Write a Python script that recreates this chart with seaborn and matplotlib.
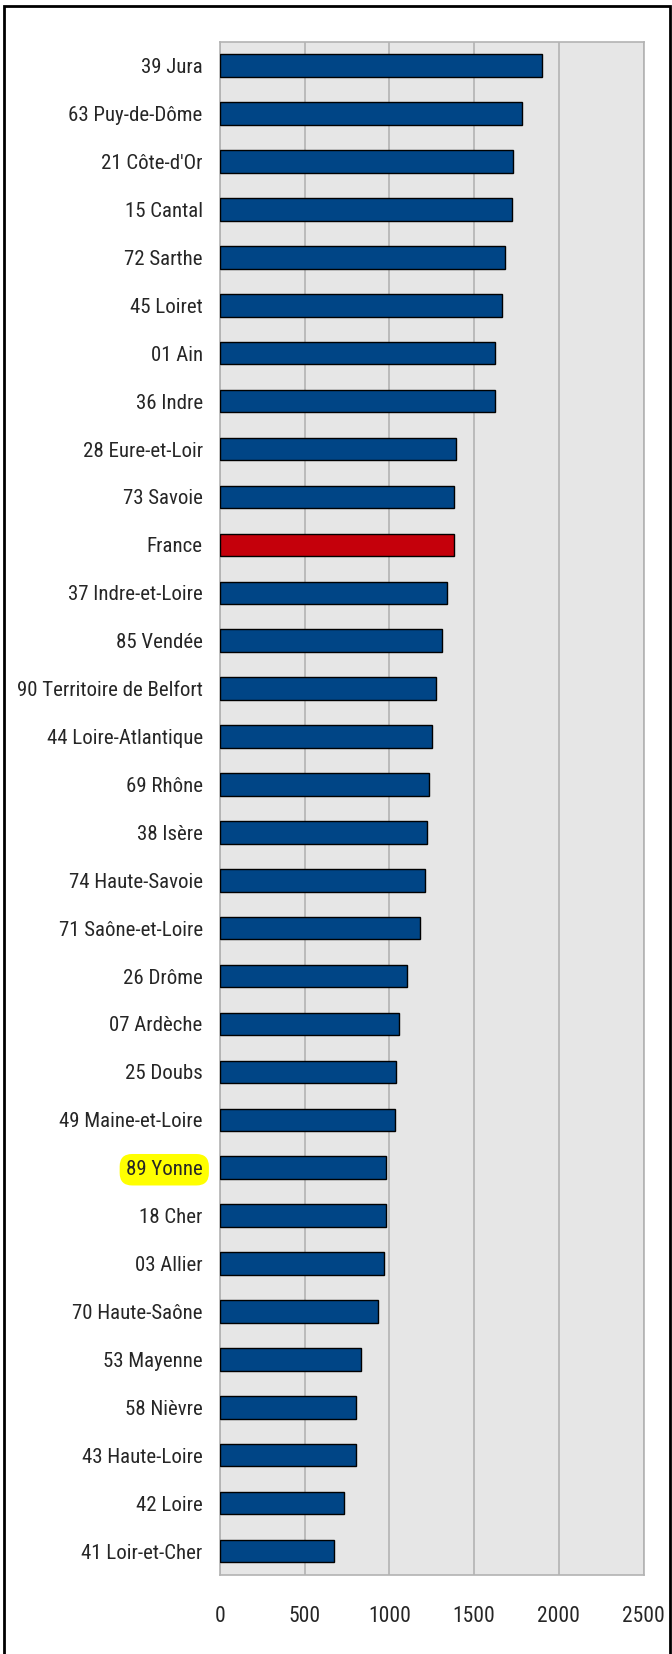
import matplotlib
matplotlib.use('Agg')
import matplotlib.pyplot as plt
import seaborn as sns
import pandas as pd
from matplotlib.patches import Rectangle

departements = ['39 Jura', '63 Puy-de-Dôme', "21 Côte-d'Or", '15 Cantal', '72 Sarthe',
                '45 Loiret', '01 Ain', '36 Indre', '28 Eure-et-Loir', '73 Savoie',
                'France', '37 Indre-et-Loire', '85 Vendée', '90 Territoire de Belfort',
                '44 Loire-Atlantique', '69 Rhône', '38 Isère', '74 Haute-Savoie',
                '71 Saône-et-Loire', '26 Drôme', '07 Ardèche', '25 Doubs',
                '49 Maine-et-Loire', '89 Yonne', '18 Cher', '03 Allier', '70 Haute-Saône',
                '53 Mayenne', '58 Nièvre', '43 Haute-Loire', '42 Loire', '41 Loir-et-Cher']
valeurs = [1902, 1781, 1731, 1722, 1683, 1663, 1622, 1622, 1392, 1381,
           1381, 1341, 1312, 1273, 1251, 1232, 1222, 1212, 1182, 1101,
           1059, 1041, 1032, 982, 982, 971, 932, 832, 802, 802, 729, 671]
xticks = [0, 500, 1000, 1500, 2000, 2500]

df = pd.DataFrame({'dep': departements, 'val': valeurs})
couleurs = {d: ('#c5000b' if d == 'France' else '#004586') for d in departements}

sns.set_style('white')
plt.rcParams['font.family'] = ['Roboto Condensed', 'Liberation Sans', 'DejaVu Sans']

fig = plt.figure(figsize=(6.72, 16.54), dpi=100)
ax = fig.add_axes([0.3274, 0.04776, 0.6302, 0.9270])
ax.set_facecolor('#e6e6e6')

sns.barplot(data=df, x='val', y='dep', hue='dep', palette=couleurs, legend=False,
            orient='h', width=0.47, saturation=1, edgecolor='black', linewidth=1,
            ax=ax, zorder=3)

ax.set_xlim(0, 2500)
ax.set_ylim(len(departements) - 0.5, -0.5)
ax.set_xticks(xticks)
ax.set_xticklabels([str(t) for t in xticks], fontsize=15.5)
ax.xaxis.grid(True, color='#b3b3b3', linewidth=1.2, zorder=0)
ax.set_axisbelow(True)

ax.set_yticks(range(len(departements)))
ax.set_yticklabels(departements, fontsize=15)
ax.set_yticks([i - 0.5 for i in range(len(departements) + 1)], minor=True)
ax.tick_params(axis='y', which='major', length=0, pad=12.5)
ax.tick_params(axis='y', which='minor', length=7.5, color='#b3b3b3', width=1.2)
ax.tick_params(axis='x', length=10, color='#b3b3b3', width=1.2, pad=12.5)
ax.set_xlabel('')
ax.set_ylabel('')

for s in ax.spines.values():
    s.set_color('#b3b3b3')
    s.set_linewidth(1.2)

for lab in ax.get_yticklabels():
    if lab.get_text() == '89 Yonne':
        lab.set_bbox(dict(boxstyle='round,pad=0.3,rounding_size=0.6', facecolor='#ffff00',
                          edgecolor='none'))

fig.patches.append(Rectangle((4 / 672, -0.05), 666 / 672, 1.05 - 6 / 1654,
                             transform=fig.transFigure, fill=False,
                             edgecolor='black', linewidth=2))

fig.savefig('out.png', dpi=100)
